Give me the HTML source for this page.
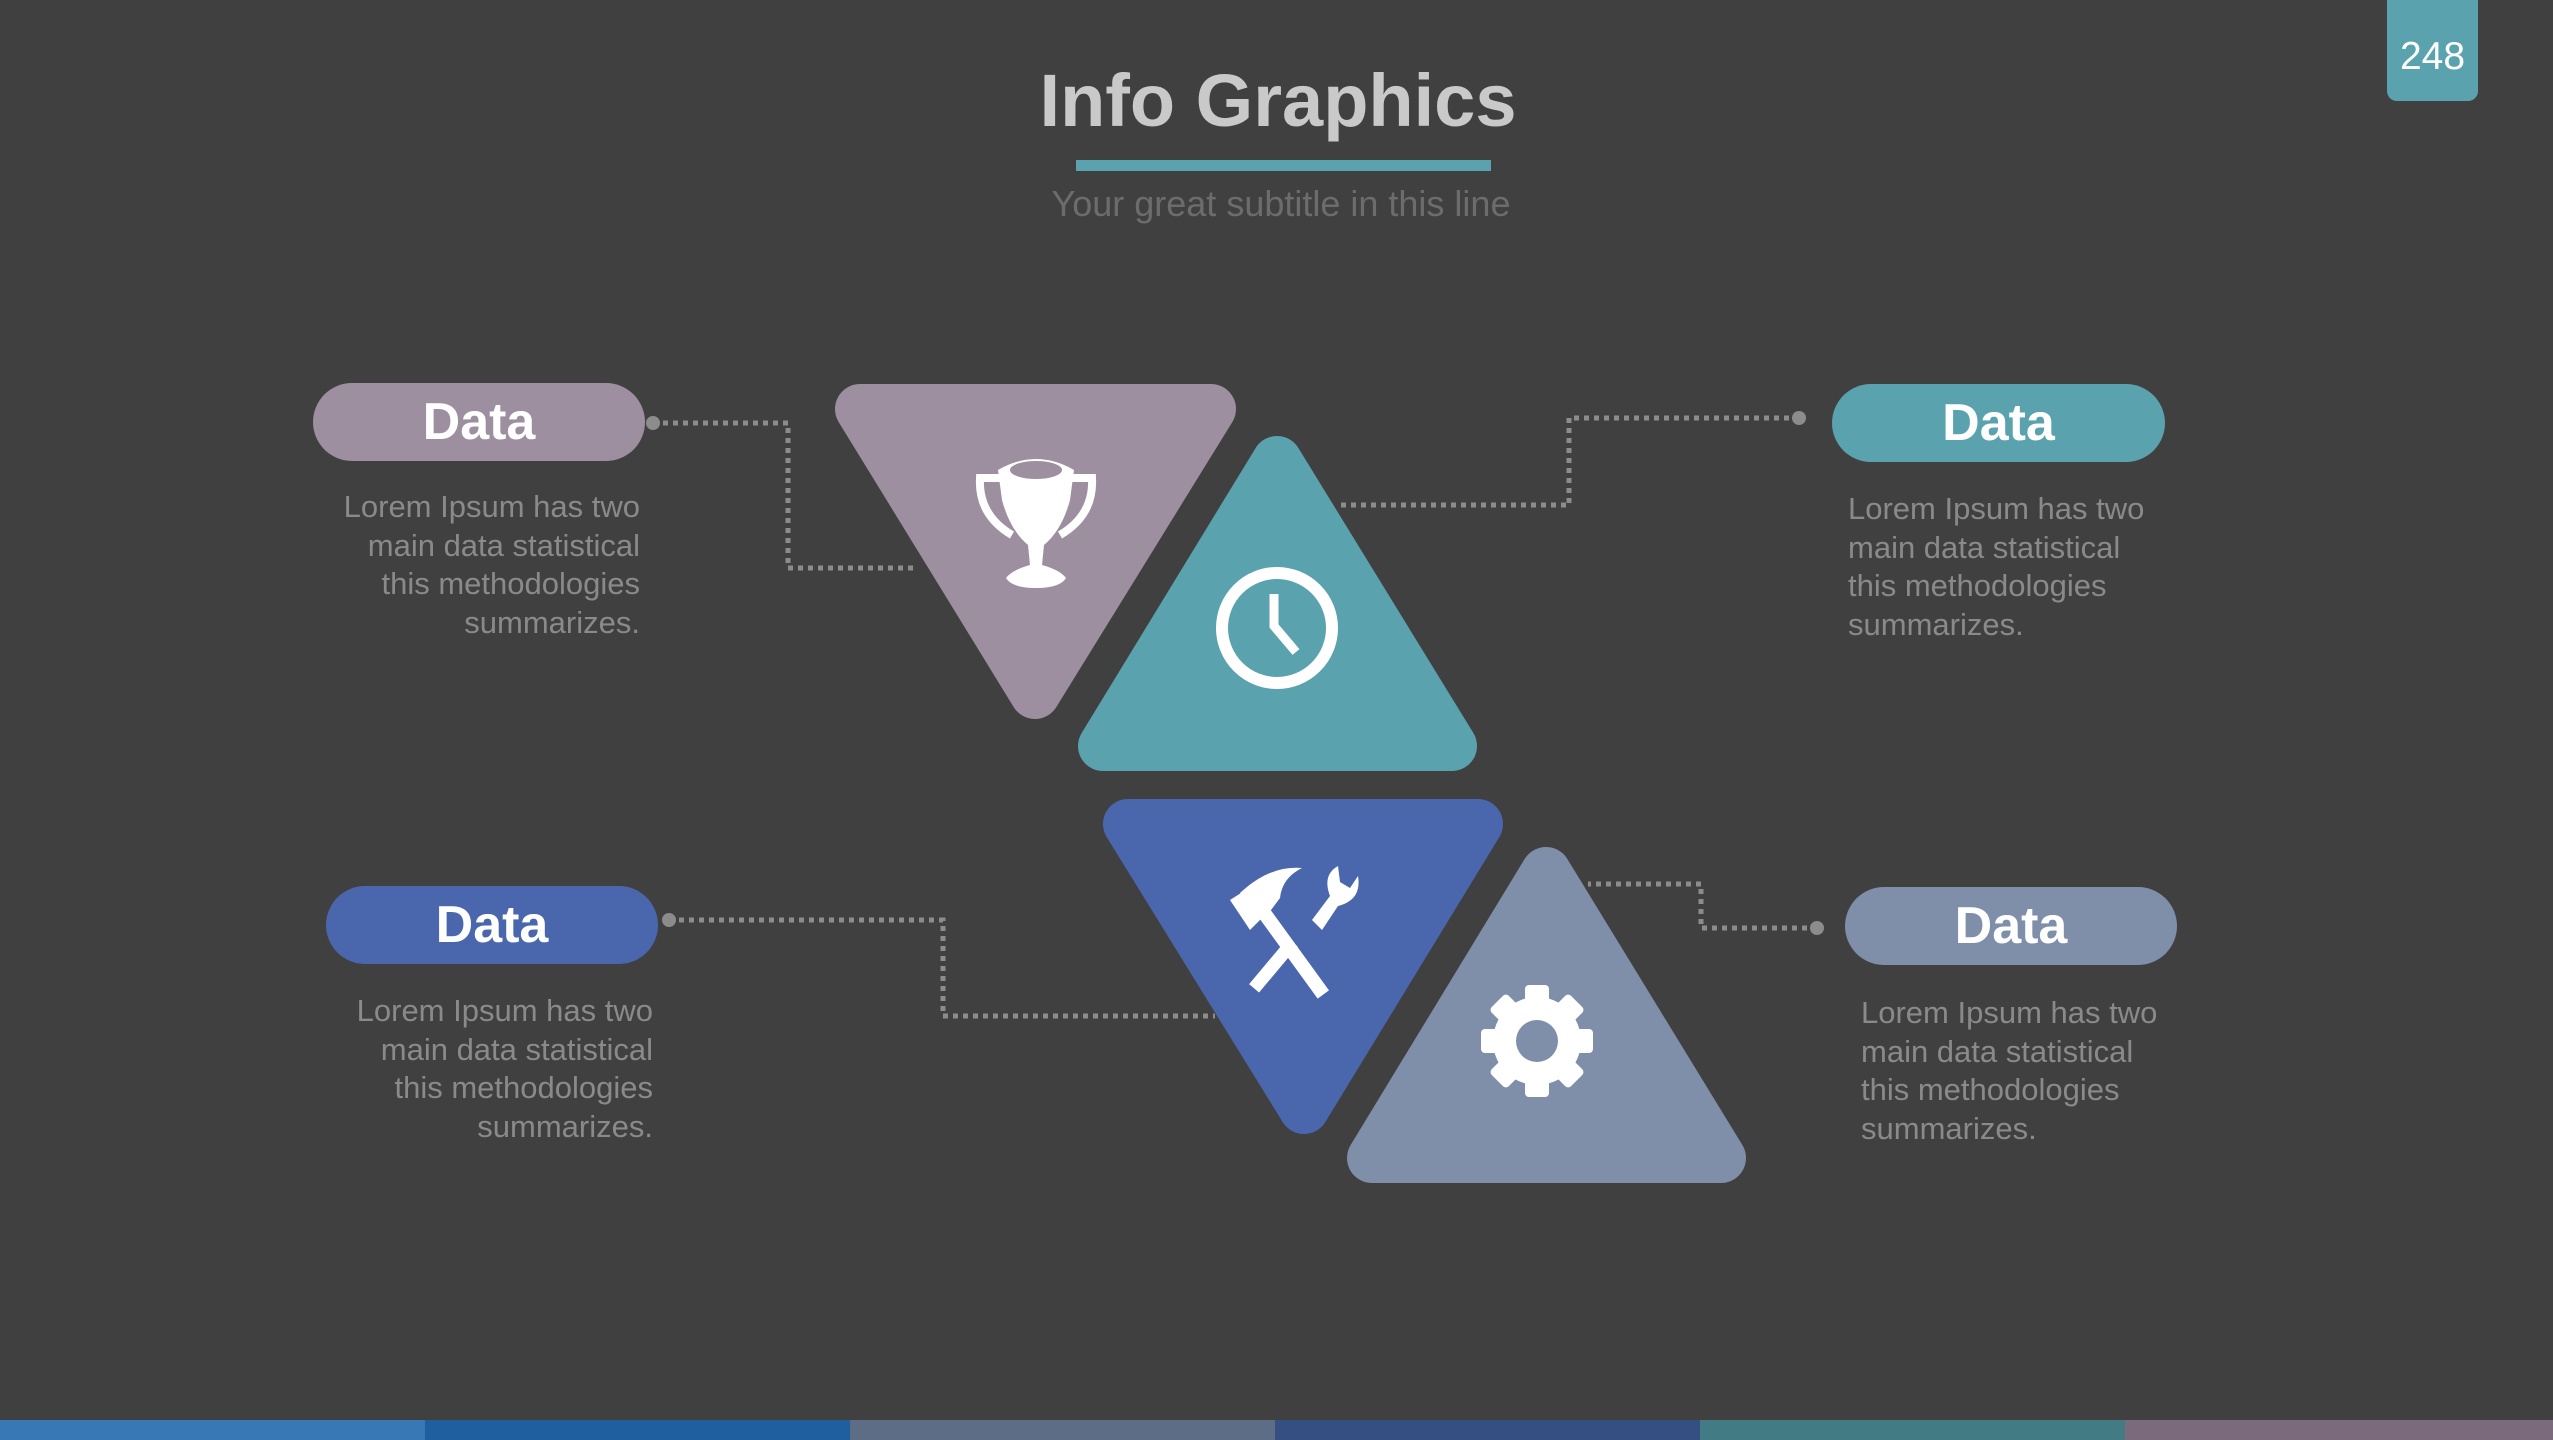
<!DOCTYPE html>
<html><head><meta charset="utf-8"><style>
html,body{margin:0;padding:0}
body{width:2553px;height:1440px;background:#404040;position:relative;overflow:hidden;font-family:"Liberation Sans",sans-serif}
.t{position:absolute;white-space:nowrap}
.pill{position:absolute;height:78px;border-radius:39px;color:#fff;font-size:52px;font-weight:bold;text-align:center;line-height:78px}
.body{position:absolute;font-size:31px;line-height:38.5px;color:#8a8a8a}
</style></head><body>
<div class="t" style="left:0;width:2556px;top:58px;text-align:center;font-size:74px;font-weight:bold;color:#c9c9c9">Info Graphics</div>
<div style="position:absolute;left:1076px;top:160px;width:415px;height:11px;background:#5aa2ae"></div>
<div class="t" style="left:0;width:2562px;top:183px;text-align:center;font-size:36px;color:#6c6c6c">Your great subtitle in this line</div>
<div style="position:absolute;left:2387px;top:0;width:91px;height:101px;background:#5aa2ae;border-radius:0 0 10px 10px;color:#fff;font-size:39px;text-align:center;line-height:114px">248</div>

<svg style="position:absolute;left:0;top:0" width="2553" height="1440">
<g fill="none" stroke="#8c8c8c" stroke-width="5" stroke-dasharray="5 5">
<polyline points="653,423 788,423 788,568 915,568"/>
<polyline points="1799,418 1569,418 1569,505 1341,505"/>
<polyline points="669,920 943,920 943,1016 1215,1016"/>
<polyline points="1817,928 1701,928 1701,884 1588,884"/>
</g>
<g fill="#8c8c8c"><circle cx="653" cy="423" r="7"/><circle cx="1799" cy="418" r="7"/><circle cx="669" cy="920" r="7"/><circle cx="1817" cy="928" r="7"/></g>
<g stroke-linejoin="round" stroke-width="50">
<polygon points="860,409 1211,409 1035,694" fill="#9d8fa0" stroke="#9d8fa0"/>
<polygon points="1277,461 1452,746 1103,746" fill="#5aa2ae" stroke="#5aa2ae"/>
<polygon points="1128,824 1478,824 1304,1109" fill="#4a67ae" stroke="#4a67ae"/>
<polygon points="1546,872 1721,1158 1372,1158" fill="#7f8faa" stroke="#7f8faa"/>
</g>
<g fill="#fff">
<path d="M998,470 Q1036,448 1074,470 L1070,500 Q1062,530 1044,545 L1042,565 Q1060,570 1066,578 Q1060,588 1036,588 Q1012,588 1006,578 Q1012,570 1030,565 L1028,545 Q1010,530 1002,500 Z"/>
<path d="M1002,478 L980,478 Q978,515 1012,535" fill="none" stroke="#fff" stroke-width="8"/>
<path d="M1070,478 L1092,478 Q1094,515 1060,535" fill="none" stroke="#fff" stroke-width="8"/>
<ellipse cx="1036" cy="470" rx="26" ry="9" fill="#9d8fa0"/>
</g>
<g stroke="#fff" fill="none" stroke-width="12">
<circle cx="1277" cy="628" r="55"/>
<polyline points="1274,594 1274,626 1296,652" stroke-width="9"/>
</g>
<g fill="#fff">
<rect x="1284" y="895" width="14" height="110" transform="rotate(-36 1291 950)"/>
<path d="M1240,893 Q1270,865 1302,868 Q1282,878 1280,898 L1265,918 Z"/>
<path d="M1230,900 L1252,886 L1264,916 L1250,930 Z"/>
<rect x="1267" y="935" width="13" height="60" transform="rotate(40 1273 965)"/>
<path d="M1312,920 L1330,896 Q1322,875 1338,866 L1340,882 L1350,888 L1358,876 Q1362,900 1338,906 L1322,930 Z"/>
</g>
<g fill="#fff">
<circle cx="1537" cy="1041" r="44"/>
<g>
<rect x="1525" y="985" width="24" height="112" rx="4"/>
<rect x="1525" y="985" width="24" height="112" rx="4" transform="rotate(45 1537 1041)"/>
<rect x="1525" y="985" width="24" height="112" rx="4" transform="rotate(90 1537 1041)"/>
<rect x="1525" y="985" width="24" height="112" rx="4" transform="rotate(135 1537 1041)"/>
</g>
<circle cx="1537" cy="1041" r="21" fill="#7f8faa"/>
</g>
<rect x="0" y="1420" width="426" height="20" fill="#3878b4"/>
<rect x="425" y="1420" width="426" height="20" fill="#205f9f"/>
<rect x="850" y="1420" width="426" height="20" fill="#5d6d86"/>
<rect x="1275" y="1420" width="426" height="20" fill="#364f82"/>
<rect x="1700" y="1420" width="426" height="20" fill="#437b84"/>
<rect x="2125" y="1420" width="428" height="20" fill="#7a6a7c"/>
</svg>

<div class="pill" style="left:313px;top:383px;width:332px;background:#9d8fa0">Data</div>
<div class="pill" style="left:1832px;top:384px;width:333px;background:#5aa2ae">Data</div>
<div class="pill" style="left:326px;top:886px;width:332px;background:#4a67ae">Data</div>
<div class="pill" style="left:1845px;top:887px;width:332px;background:#7f8faa">Data</div>

<div class="body" style="right:1913px;top:488px;text-align:right">Lorem Ipsum has two<br>main data statistical<br>this methodologies<br>summarizes.</div>
<div class="body" style="left:1848px;top:490px">Lorem Ipsum has two<br>main data statistical<br>this methodologies<br>summarizes.</div>
<div class="body" style="right:1900px;top:992px;text-align:right">Lorem Ipsum has two<br>main data statistical<br>this methodologies<br>summarizes.</div>
<div class="body" style="left:1861px;top:994px">Lorem Ipsum has two<br>main data statistical<br>this methodologies<br>summarizes.</div>
</body></html>
